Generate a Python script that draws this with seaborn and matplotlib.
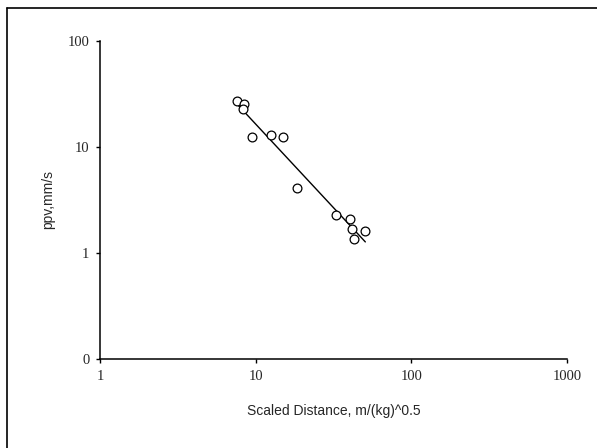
import matplotlib
matplotlib.use('Agg')
import matplotlib.pyplot as plt
from matplotlib.lines import Line2D
import numpy as np
import pandas as pd
import seaborn as sns

# scaled distance (m/kg^0.5) and peak particle velocity (mm/s)
scaled_distance = [7.6, 8.4, 8.2, 9.4, 12.4, 14.9, 18.3, 32.5, 40.2, 41.2, 42.9, 50.5]
ppv = [27.3, 25.4, 23.0, 12.5, 13.0, 12.5, 4.1, 2.3, 2.1, 1.7, 1.36, 1.6]

x_ticks = [1, 10, 100, 1000]
y_ticks = [0.1, 1, 10, 100]
y_tick_labels = ['0', '1', '10', '100']

df = pd.DataFrame({'sd': scaled_distance, 'ppv': ppv})

# power-law trend line (straight in log-log) over the data range
k, b = np.polyfit(np.log10(df['sd']), np.log10(df['ppv']), 1)
trend = pd.DataFrame({'sd': [df['sd'].min(), df['sd'].max()]})
trend['ppv'] = 10 ** (b + k * np.log10(trend['sd']))

sns.set_style('white')
plt.rcParams['font.family'] = ['Liberation Serif', 'DejaVu Serif']

fig = plt.figure(figsize=(5.97, 4.48), dpi=100)
ax = fig.add_axes([0.1683, 0.1987, 0.7814, 0.7098])

sns.lineplot(data=trend, x='sd', y='ppv', ax=ax, color='black', linewidth=1.0)
sns.scatterplot(data=df, x='sd', y='ppv', ax=ax, marker='o', s=40,
                facecolor='white', edgecolor='black', linewidth=0.9, zorder=3)

ax.set_xscale('log')
ax.set_yscale('log')
ax.set_xlim(1, 1000)
ax.set_ylim(0.1, 100)
ax.set_xticks(x_ticks)
ax.set_xticklabels([str(t) for t in x_ticks])
ax.set_yticks(y_ticks)
ax.set_yticklabels(y_tick_labels)
ax.minorticks_off()
ax.tick_params(axis='both', direction='out', length=3, width=1.0,
               color='black', labelsize=10.5, pad=5, bottom=True, left=True)

for side in ['top', 'right']:
    ax.spines[side].set_visible(False)
for side in ['left', 'bottom']:
    ax.spines[side].set_color('black')
    ax.spines[side].set_linewidth(1.1)

ax.set_xlabel('Scaled Distance, m/(kg)^0.5', fontfamily='Liberation Sans',
              fontsize=10, labelpad=15)
ax.set_ylabel('ppv,mm/s', fontfamily='Liberation Sans', fontsize=10, labelpad=9)

# frame around the whole chart (right and bottom edges fall outside the image)
fig.add_artist(Line2D([6.5 / 597, 6.5 / 597], [-0.1, 1 - 8.5 / 448],
                      transform=fig.transFigure, color='black', linewidth=1.2))
fig.add_artist(Line2D([6.5 / 597, 1.1], [1 - 8.5 / 448, 1 - 8.5 / 448],
                      transform=fig.transFigure, color='black', linewidth=1.2))

fig.savefig('out.png', dpi=100)
